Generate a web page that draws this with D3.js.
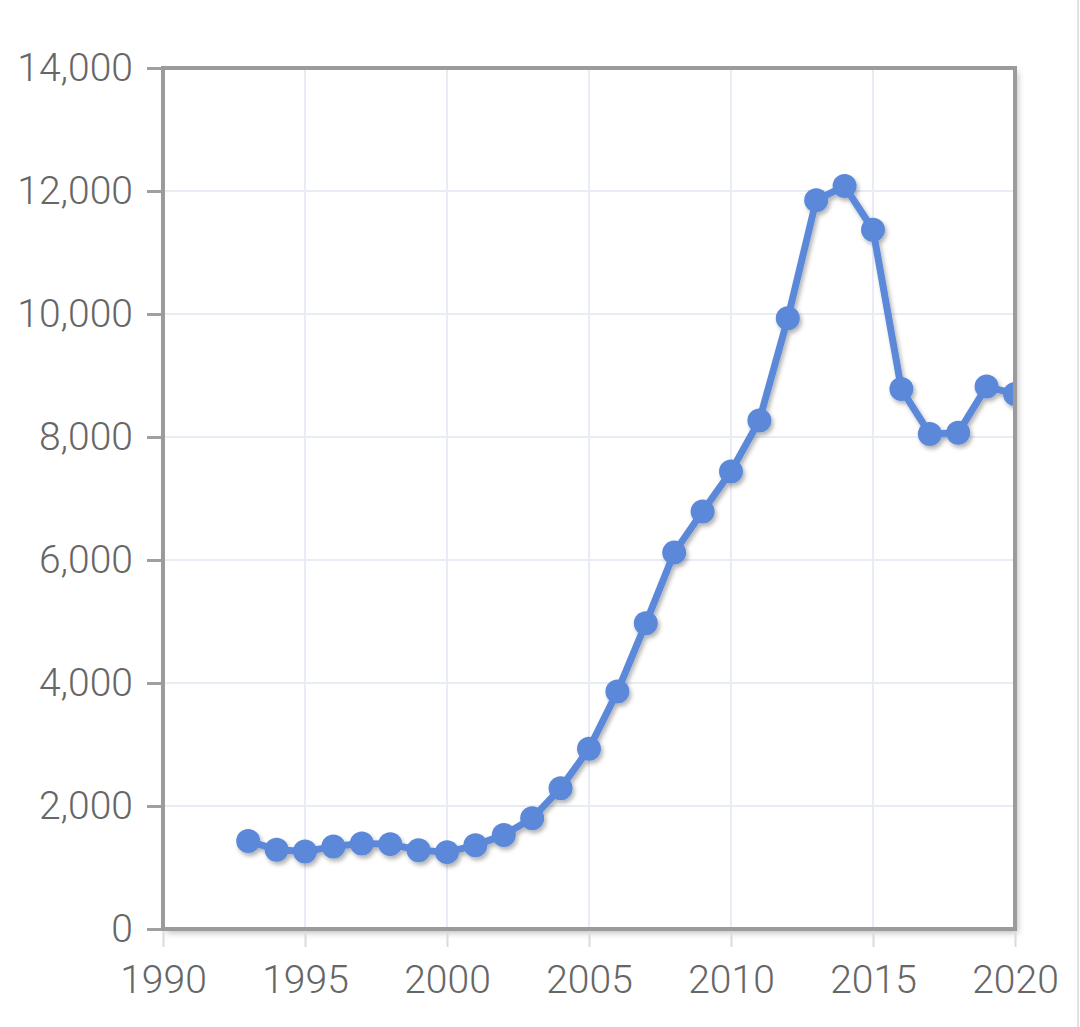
<!DOCTYPE html>
<html>
<head>
<meta charset="utf-8">
<script src="https://cdn.jsdelivr.net/npm/d3@7"></script>
<style>
  html, body { margin: 0; padding: 0; background: #fff; }
  svg { display: block; }
  .tick-label { font-family: Roboto, "Noto Sans", sans-serif; font-size: 39px; font-weight: 300; fill: #666; }
</style>
</head>
<body>
<svg id="chart" width="1080" height="1027"></svg>
<script>
// data
const years = [1993, 1994, 1995, 1996, 1997, 1998, 1999, 2000, 2001, 2002, 2003, 2004, 2005, 2006,
               2007, 2008, 2009, 2010, 2011, 2012, 2013, 2014, 2015, 2016, 2017, 2018, 2019, 2020];
const values = [1430, 1290, 1260, 1340, 1390, 1380, 1280, 1250, 1360, 1530, 1800, 2290, 2930, 3860,
                4970, 6120, 6790, 7440, 8270, 9930, 11850, 12080, 11370, 8780, 8050, 8070, 8820, 8700];
const yTicks = [0, 2000, 4000, 6000, 8000, 10000, 12000, 14000];
const xTicks = [1990, 1995, 2000, 2005, 2010, 2015, 2020];

const svg = d3.select("#chart");
const plotL = 163, plotR = 1015, plotT = 68, plotB = 929;

const x = d3.scaleLinear().domain([1990, 2020]).range([plotL, plotR]);
const y = d3.scaleLinear().domain([0, 14000]).range([plotB, plotT]);

const defs = svg.append("defs");
const shadow = defs.append("filter").attr("id", "shadow")
    .attr("x", "-10%").attr("y", "-10%").attr("width", "130%").attr("height", "130%");
shadow.append("feDropShadow").attr("dx", 3).attr("dy", 4).attr("stdDeviation", 3)
    .attr("flood-color", "#000").attr("flood-opacity", 0.25);
const lineShadow = defs.append("filter").attr("id", "lineShadow")
    .attr("x", "-10%").attr("y", "-10%").attr("width", "130%").attr("height", "130%");
lineShadow.append("feDropShadow").attr("dx", 2).attr("dy", 3).attr("stdDeviation", 2)
    .attr("flood-color", "#000").attr("flood-opacity", 0.3);
defs.append("clipPath").attr("id", "plotClip")
    .append("rect").attr("x", plotL).attr("y", plotT).attr("width", plotR - plotL).attr("height", plotB - plotT);

// thin line at the right edge of the screenshot
svg.append("line").attr("x1", 1078).attr("x2", 1078).attr("y1", 0).attr("y2", 1027)
    .attr("stroke", "#e2e2e2").attr("stroke-width", 2);

// plot background with shadow
svg.append("rect").attr("x", plotL).attr("y", plotT).attr("width", plotR - plotL).attr("height", plotB - plotT)
    .attr("fill", "#fff").attr("filter", "url(#shadow)");

// gridlines
svg.append("g").selectAll("line").data(yTicks.slice(1, -1)).join("line")
    .attr("x1", plotL).attr("x2", plotR).attr("y1", d => y(d)).attr("y2", d => y(d))
    .attr("stroke", "#e8ecf5").attr("stroke-width", 2);
svg.append("g").selectAll("line").data(xTicks.slice(1, -1)).join("line")
    .attr("y1", plotT).attr("y2", plotB).attr("x1", d => x(d)).attr("x2", d => x(d))
    .attr("stroke", "#e8ecf5").attr("stroke-width", 2);

// axes
const yAxis = svg.append("g").attr("transform", `translate(${plotL},0)`)
    .call(d3.axisLeft(y).tickValues(yTicks).tickSize(16).tickPadding(14).tickFormat(d3.format(",")));
yAxis.select(".domain").remove();
yAxis.selectAll(".tick line").attr("stroke", "#a0a0a0").attr("stroke-width", 3);
yAxis.selectAll(".tick text").attr("class", "tick-label").attr("fill", null);
yAxis.attr("font-size", null).attr("font-family", null);

const xAxis = svg.append("g").attr("transform", `translate(0,${plotB})`)
    .call(d3.axisBottom(x).tickValues(xTicks).tickSize(18).tickPadding(18).tickFormat(d3.format("d")));
xAxis.select(".domain").remove();
xAxis.selectAll(".tick line").attr("stroke", "#d8dbe3").attr("stroke-width", 2);
xAxis.selectAll(".tick text").attr("class", "tick-label").attr("fill", null);
xAxis.attr("font-size", null).attr("font-family", null);

// series
const pts = years.map((yr, i) => ({ year: yr, value: values[i] }));
const series = svg.append("g").attr("clip-path", "url(#plotClip)")
    .append("g").attr("filter", "url(#lineShadow)");
series.append("path").datum(pts)
    .attr("fill", "none").attr("stroke", "#5b88d9").attr("stroke-width", 7)
    .attr("stroke-linejoin", "round")
    .attr("d", d3.line().x(d => x(d.year)).y(d => y(d.value)));
series.selectAll("circle").data(pts).join("circle")
    .attr("cx", d => x(d.year)).attr("cy", d => y(d.value)).attr("r", 12)
    .attr("fill", "#5b88d9");

// frame
svg.append("rect").attr("x", plotL).attr("y", plotT).attr("width", plotR - plotL).attr("height", plotB - plotT)
    .attr("fill", "none").attr("stroke", "#9b9b9b").attr("stroke-width", 4);
</script>
</body>
</html>
